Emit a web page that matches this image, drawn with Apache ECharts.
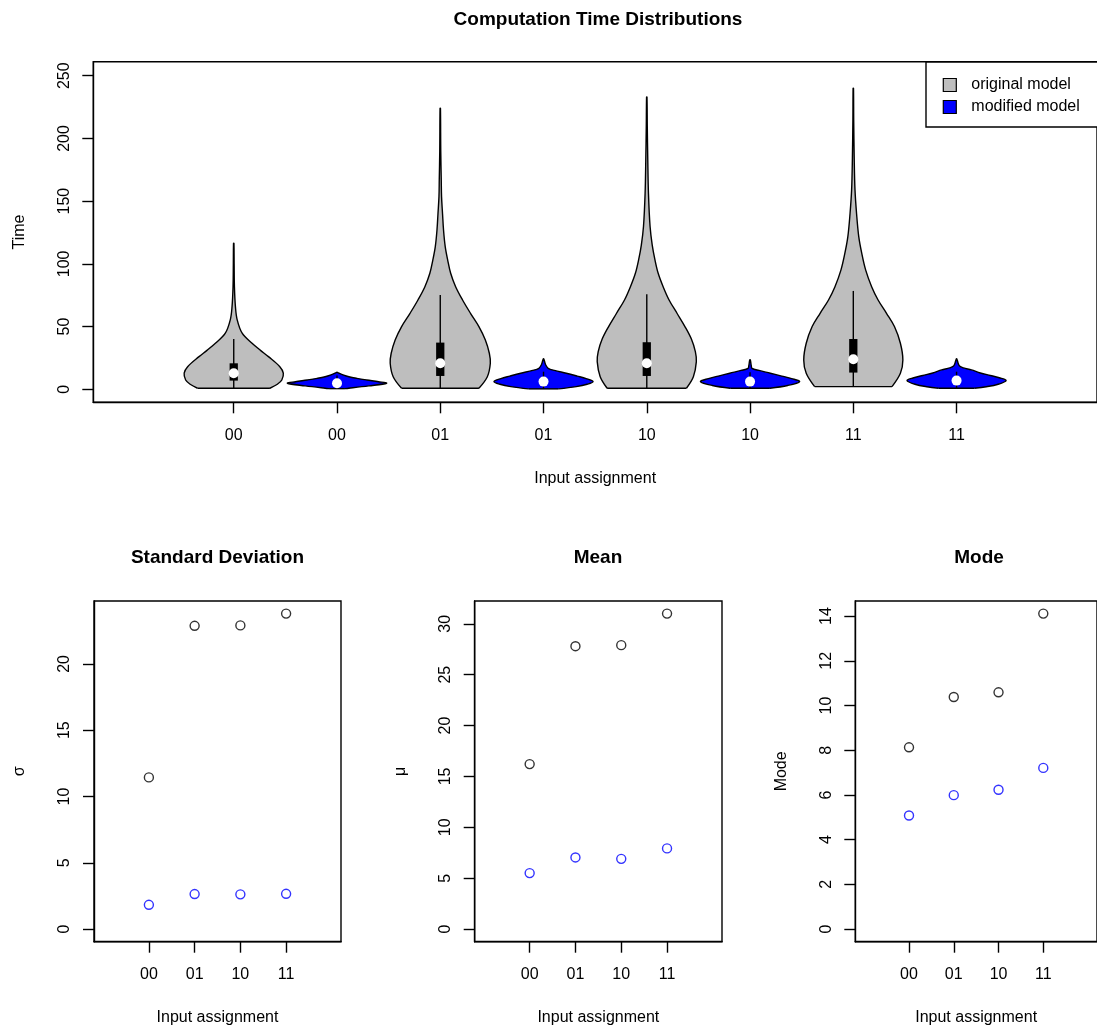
<!DOCTYPE html>
<html>
<head>
<meta charset="utf-8">
<script src="https://cdn.jsdelivr.net/npm/echarts@6/dist/echarts.min.js"></script>
<style>
html, body { margin: 0; padding: 0; background: #fff; }
#main { width: 1097px; height: 1030px; }
</style>
</head>
<body>
<div id="main"></div>
<script>
// top panel: one violin per position
var tickLabels = ['00', '00', '01', '01', '10', '10', '11', '11'];
var violinGroup = [0, 1, 0, 1, 0, 1, 0, 1]; // 0 = original, 1 = modified
var groupNames = ['original model', 'modified model'];

// density outline: time levels and relative half width
var violinLevels = [
	[0.8, 4, 7.4, 12.8, 18, 26, 31, 36.7, 44.7, 55.3, 65.9, 81.8, 100, 116.4],
	[0.5, 0.8, 2.7, 4.8, 6, 7.4, 8.7, 10, 11.5, 12.8, 13.5],
	[0.8, 10, 20.7, 28.7, 39.3, 50, 60.6, 71.2, 81.8, 92.5, 103, 113.7, 127, 140, 153.6, 167, 190, 224],
	[0.3, 2.1, 4, 6.1, 8.5, 10.5, 12.8, 15, 16.7, 19, 21, 24.2],
	[0.8, 10, 22, 30, 40, 50, 60.6, 71.2, 81.8, 92.5, 103, 115, 130, 156, 183, 210, 233],
	[0.8, 3, 6.1, 8.5, 10.5, 12.8, 15, 16.7, 19, 23.4],
	[2.1, 12.8, 23.4, 36.7, 50, 60.6, 71.2, 81.8, 95, 108.5, 121.7, 140, 159, 185, 215, 240],
	[0.8, 2, 4, 6.9, 9, 11, 13, 15.4, 17, 18.5, 21, 24.2]
];
var violinWidths = [
	[0.73, 0.88, 0.97, 1, 0.93, 0.70, 0.54, 0.37, 0.17, 0.07, 0.034, 0.014, 0.008, 0.004],
	[0.16, 0.24, 0.64, 1, 0.84, 0.6, 0.4, 0.24, 0.12, 0.04, 0.008],
	[0.78, 0.95, 1.01, 0.99, 0.91, 0.78, 0.61, 0.45, 0.31, 0.21, 0.15, 0.10, 0.066, 0.046, 0.026, 0.02, 0.01, 0.004],
	[0.3, 0.66, 0.88, 1, 0.86, 0.68, 0.46, 0.22, 0.094, 0.05, 0.03, 0.006],
	[0.8, 0.94, 1, 0.98, 0.9, 0.77, 0.61, 0.45, 0.33, 0.23, 0.166, 0.11, 0.066, 0.034, 0.02, 0.01, 0.004],
	[0.4, 0.76, 1, 0.84, 0.64, 0.41, 0.18, 0.04, 0.024, 0.006],
	[0.78, 0.95, 1, 0.95, 0.83, 0.67, 0.5, 0.37, 0.25, 0.17, 0.11, 0.066, 0.034, 0.018, 0.008, 0.004],
	[0.36, 0.6, 0.84, 1, 0.88, 0.68, 0.48, 0.3, 0.14, 0.06, 0.03, 0.006]
];
var medians = [12.8, 4.8, 20.7, 6.1, 20.7, 6.1, 23.9, 6.9];
var quart1 = [6.9, 3.5, 10.6, 4.3, 10.6, 4.3, 13.3, 5.0];
var quart3 = [20.7, 6.5, 37.2, 8.5, 37.5, 8.3, 40.1, 9.0];
var whiskLo = [0.8, 0.5, 0.8, 0.3, 0.8, 0.8, 2.1, 0.8];
var whiskHi = [40.1, 11, 75.2, 14, 75.7, 13.5, 78.4, 14];

// bottom panels
var assignments = ['00', '01', '10', '11'];
var sdOriginal = [11.44, 22.87, 22.9, 23.79];
var sdModified = [1.83, 2.64, 2.62, 2.66];
var meanOriginal = [16.21, 27.8, 27.9, 31.0];
var meanModified = [5.5, 7.04, 6.9, 7.93];
var modeOriginal = [8.13, 10.38, 10.59, 14.11];
var modeModified = [5.08, 5.99, 6.23, 7.21];

var FONT = '"Liberation Sans", Arial, sans-serif';
var WEX = 0.48;     // max half width of a violin, x units
var BOXW = 0.04;    // half width of the quartile box
var LW = 1.4;

var chart = echarts.init(document.getElementById('main'));

function violinItem(params, api) {
	var x = api.value(0), k = api.value(1);
	var lv = violinLevels[k], wd = violinWidths[k];
	var right = [], left = [];
	for (var i = 0; i < lv.length; i++) {
		right.push(api.coord([x + wd[i] * WEX, lv[i]]));
		left.unshift(api.coord([x - wd[i] * WEX, lv[i]]));
	}
	var outline = right.concat(left);
	var bl = left[left.length - 1], br = right[0];
	var lo = api.coord([x, whiskLo[k]]), hi = api.coord([x, whiskHi[k]]);
	var b1 = api.coord([x - BOXW, quart3[k]]), b2 = api.coord([x + BOXW, quart1[k]]);
	var md = api.coord([x, medians[k]]);
	return {
		type: 'group',
		children: [
			// open smoothed outline, canvas fill closes it along the flat bottom
			{type: 'polyline', shape: {points: outline, smooth: 0.35},
				style: {fill: api.visual('color'), stroke: '#000', lineWidth: LW}},
			{type: 'line', shape: {x1: bl[0], y1: bl[1], x2: br[0], y2: br[1]},
				style: {stroke: '#000', lineWidth: LW}},
			{type: 'line', shape: {x1: lo[0], y1: lo[1], x2: hi[0], y2: hi[1]},
				style: {stroke: '#000', lineWidth: LW}},
			{type: 'rect', shape: {x: b1[0], y: b1[1], width: b2[0] - b1[0], height: b2[1] - b1[1]},
				style: {fill: '#000'}},
			{type: 'circle', shape: {cx: md[0], cy: md[1], r: 5}, style: {fill: '#fff'}}
		]
	};
}

function violinData(g) {
	var out = [];
	for (var i = 0; i < violinGroup.length; i++) {
		if (violinGroup[i] == g) out.push([i + 1, i, medians[i]]);
	}
	return out;
}

var grids = [
	{left: 93.3, top: 61.7, width: 1009.5, height: 340.6},
	{left: 94, top: 601, width: 247, height: 340.7},
	{left: 474.7, top: 601, width: 247.3, height: 340.7},
	{left: 855.3, top: 601, width: 247.4, height: 340.7}
];
grids.forEach(function(g){
	g.show = true;
	g.borderColor = '#000';
	g.borderWidth = LW;
	g.backgroundColor = 'transparent';
});

function xAx(gi, min, max, vals, labels) {
	return {
		type: 'value', gridIndex: gi, min: min, max: max,
		name: 'Input assignment', nameLocation: 'middle', nameGap: 68,
		nameTextStyle: {fontFamily: FONT, fontSize: 16, color: '#000'},
		axisLine: {show: true, onZero: false, lineStyle: {color: '#000', width: LW}},
		axisTick: {show: true, inside: false, length: 11, customValues: vals, lineStyle: {color: '#000', width: LW}},
		axisLabel: {show: true, margin: 25, customValues: vals, fontFamily: FONT, fontSize: 16, color: '#000',
			formatter: function(v){ return labels[Math.round(v) - 1]; }},
		splitLine: {show: false}
	};
}
function yAx(gi, min, max, vals, name) {
	return {
		type: 'value', gridIndex: gi, min: min, max: max,
		name: name, nameLocation: 'middle', nameGap: 66,
		nameTextStyle: {fontFamily: FONT, fontSize: 16, color: '#000'},
		axisLine: {show: true, onZero: false, lineStyle: {color: '#000', width: LW}},
		axisTick: {show: true, inside: false, length: 11, customValues: vals, lineStyle: {color: '#000', width: LW}},
		axisLabel: {show: true, margin: 21, rotate: 90, customValues: vals, fontFamily: FONT, fontSize: 16, color: '#000'},
		splitLine: {show: false}
	};
}
// R style range: data range stretched by 4% each side
function ext(arr) {
	var mx = Math.max.apply(null, arr);
	return [-0.04 * mx, mx * 1.04];
}

var sdR = ext(sdOriginal), meanR = ext(meanOriginal), modeR = ext(modeOriginal);

var xAxes = [
	xAx(0, -0.36, 9.36, [1, 2, 3, 4, 5, 6, 7, 8], tickLabels),
	xAx(1, -0.2, 5.2, [1, 2, 3, 4], assignments),
	xAx(2, -0.2, 5.2, [1, 2, 3, 4], assignments),
	xAx(3, -0.2, 5.2, [1, 2, 3, 4], assignments)
];
var yAxes = [
	yAx(0, -10.4, 261.2, [0, 50, 100, 150, 200, 250], 'Time'),
	yAx(1, sdR[0], sdR[1], [0, 5, 10, 15, 20], 'σ'),
	yAx(2, meanR[0], meanR[1], [0, 5, 10, 15, 20, 25, 30], 'μ'),
	yAx(3, modeR[0], modeR[1], [0, 2, 4, 6, 8, 10, 12, 14], 'Mode')
];

function pts(arr) {
	return arr.map(function(v, i){ return [i + 1, v]; });
}
function scat(gi, arr, col) {
	return {
		type: 'scatter', xAxisIndex: gi, yAxisIndex: gi, data: pts(arr),
		symbol: 'circle', symbolSize: 9, silent: true,
		itemStyle: {color: 'rgba(0,0,0,0)', borderColor: col, borderWidth: LW}
	};
}

var titleStyle = {fontFamily: FONT, fontSize: 19, fontWeight: 'bold', color: '#000'};

var option = {
	animation: false,
	backgroundColor: '#fff',
	title: [
		{text: 'Computation Time Distributions', left: 598, top: 10, textAlign: 'center', padding: 0, textStyle: titleStyle},
		{text: 'Standard Deviation', left: 217.5, top: 548, textAlign: 'center', padding: 0, textStyle: titleStyle},
		{text: 'Mean', left: 598, top: 548, textAlign: 'center', padding: 0, textStyle: titleStyle},
		{text: 'Mode', left: 979, top: 548, textAlign: 'center', padding: 0, textStyle: titleStyle}
	],
	legend: {
		orient: 'vertical', left: 926, top: 62,
		padding: [15, 30, 12, 16.7], itemGap: 6,
		itemWidth: 13, itemHeight: 13, icon: 'rect',
		borderColor: '#000', borderWidth: LW, backgroundColor: '#fff',
		textStyle: {fontFamily: FONT, fontSize: 16, color: '#000', padding: [0, 0, 0, 10]},
		data: [
			{name: groupNames[0], itemStyle: {color: '#bebebe', borderColor: '#000', borderWidth: 1.2}},
			{name: groupNames[1], itemStyle: {color: '#0000ff', borderColor: '#000', borderWidth: 1.2}}
		]
	},
	grid: grids,
	xAxis: xAxes,
	yAxis: yAxes,
	series: [
		{type: 'custom', name: groupNames[0], xAxisIndex: 0, yAxisIndex: 0, renderItem: violinItem,
			itemStyle: {color: '#bebebe'}, encode: {x: 0, y: 2}, data: violinData(0), silent: true},
		{type: 'custom', name: groupNames[1], xAxisIndex: 0, yAxisIndex: 0, renderItem: violinItem,
			itemStyle: {color: '#0000ff'}, encode: {x: 0, y: 2}, data: violinData(1), silent: true},
		scat(1, sdOriginal, '#000'), scat(1, sdModified, '#0000ff'),
		scat(2, meanOriginal, '#000'), scat(2, meanModified, '#0000ff'),
		scat(3, modeOriginal, '#000'), scat(3, modeModified, '#0000ff')
	]
};
chart.setOption(option);
</script>
</body>
</html>
